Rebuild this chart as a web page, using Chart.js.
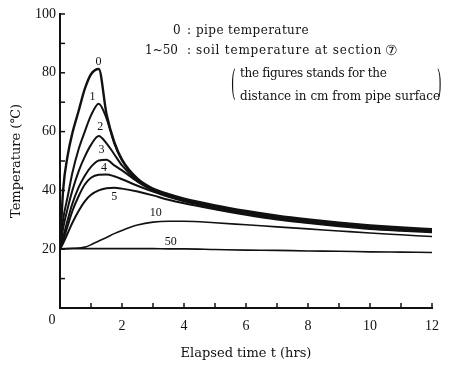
<!DOCTYPE html>
<html>
<head>
<meta charset="utf-8">
<script src="https://cdn.jsdelivr.net/npm/chart.js@4.4.0/dist/chart.umd.min.js"></script>
<style>
  html, body { margin: 0; padding: 0; background: #fff; }
</style>
</head>
<body>
<canvas id="tempChart" width="449" height="367"></canvas>
<script>
const hours = [0, 0.1, 0.25, 0.4, 0.6, 0.8, 1.0, 1.25, 1.5, 1.75, 2.0, 2.5, 3, 3.5, 4, 5, 6, 7, 8, 9, 10, 11, 12];

// Temperature (℃): curve 0 = pipe, others = soil at n cm from pipe surface
const temp0 = [20, 40, 52, 59.5, 67, 74.5, 79.5, 81.3, 66, 56.5, 50.5, 44, 40.6, 38.7, 37.2, 34.9, 33.0, 31.4, 30.1, 29.0, 28.1, 27.4, 26.8];
const temp1 = [20, 30, 38, 46, 54, 60, 65.5, 69.5, 64.5, 56, 50.2, 43.7, 40.4, 38.5, 37.0, 34.7, 32.8, 31.2, 29.9, 28.8, 27.9, 27.2, 26.6];
const temp2 = [20, 27, 34, 40, 46.5, 51.5, 55.5, 58.5, 56, 52.3, 48.5, 43.3, 40.2, 38.3, 36.8, 34.5, 32.6, 31.0, 29.7, 28.6, 27.7, 27.0, 26.4];
const temp3 = [20, 24, 30, 35.5, 41, 45, 48, 50.2, 50.4, 48.5, 46.8, 43, 40.0, 38.1, 36.6, 34.3, 32.4, 30.8, 29.5, 28.4, 27.5, 26.8, 26.2];
const temp4 = [20, 23, 28, 33, 38, 42, 44.3, 45.3, 45.4, 44.8, 43.8, 41.6, 39.6, 37.8, 36.3, 34.0, 32.1, 30.5, 29.2, 28.1, 27.2, 26.5, 26.0];
const temp5 = [20, 22, 25.5, 29, 33, 36.3, 38.5, 40, 40.7, 40.9, 40.6, 39.6, 38.3, 36.8, 35.6, 33.6, 31.7, 30.1, 28.9, 27.8, 26.9, 26.3, 25.8];
const temp10 = [20, 20.1, 20.2, 20.3, 20.4, 20.7, 21.5, 22.8, 24.0, 25.3, 26.4, 28.2, 29.2, 29.5, 29.5, 29.0, 28.3, 27.6, 26.9, 26.2, 25.5, 24.9, 24.3];
const temp50 = [20, 20.2, 20.2, 20.2, 20.2, 20.2, 20.2, 20.2, 20.2, 20.2, 20.2, 20.2, 20.2, 20.1, 20.1, 19.9, 19.7, 19.6, 19.4, 19.3, 19.1, 19.0, 18.9];

// curve labels and where they sit (hrs, ℃)
const curveNames = ["0", "1", "2", "3", "4", "5", "10", "50"];
const labelHours = [1.24, 1.05, 1.30, 1.34, 1.42, 1.75, 3.09, 3.57];
const labelTemps = [83.8, 71.9, 61.7, 53.7, 47.7, 37.9, 32.4, 22.6];

const xTicks = [0, 2, 4, 6, 8, 10, 12];
const yTicks = [0, 20, 40, 60, 80, 100];

const ink = "#111";
const allTemps = [temp0, temp1, temp2, temp3, temp4, temp5, temp10, temp50];
const widths = [2.4, 2, 2, 2, 2, 2, 1.6, 1.6];

const datasets = allTemps.map((vals, i) => ({
  label: curveNames[i],
  data: hours.map((h, j) => ({ x: h, y: vals[j] })),
  borderColor: ink,
  borderWidth: widths[i],
  pointRadius: 0,
  fill: false,
  cubicInterpolationMode: "monotone",
}));

// inward tick marks, curve numbers and the note in the upper right
const decorations = {
  id: "decorations",
  afterDraw(chart) {
    const { ctx } = chart;
    const xs = chart.scales.x;
    const ys = chart.scales.y;
    ctx.save();
    ctx.strokeStyle = ink;
    ctx.lineWidth = 1.5;
    for (let h = 1; h <= 12; h++) {
      const px = xs.getPixelForValue(h);
      ctx.beginPath();
      ctx.moveTo(px, ys.bottom);
      ctx.lineTo(px, ys.bottom - 5);
      ctx.stroke();
    }
    for (let v = 10; v <= 100; v += 10) {
      const py = ys.getPixelForValue(v);
      ctx.beginPath();
      ctx.moveTo(xs.left, py);
      ctx.lineTo(xs.left + 5, py);
      ctx.stroke();
    }

    ctx.fillStyle = ink;
    ctx.textAlign = "center";
    ctx.textBaseline = "middle";
    ctx.font = '14px "Liberation Serif"';
    ctx.fillText("0", 52, 320);

    ctx.font = '12px "Liberation Serif"';
    curveNames.forEach((name, i) => {
      ctx.fillText(name, xs.getPixelForValue(labelHours[i]), ys.getPixelForValue(labelTemps[i]));
    });

    ctx.font = '12px "DejaVu Serif"';
    ctx.textAlign = "left";
    ctx.fillText("0", 173, 31);
    ctx.fillText(":", 187, 31);
    ctx.fillText("1~50", 145, 51);
    ctx.fillText(":", 187, 51);
    ctx.letterSpacing = "0.4px";
    ctx.fillText("pipe temperature", 196, 31);
    ctx.letterSpacing = "0.8px";
    ctx.fillText("soil temperature at section", 196, 51);
    ctx.letterSpacing = "-0.3px";
    ctx.fillText("the figures stands for the", 240, 74);
    ctx.letterSpacing = "0px";
    ctx.fillText("distance in cm from pipe surface", 240, 97);
    ctx.font = '14px "DejaVu Serif"';
    ctx.fillText("⑦", 385, 51);

    ctx.font = '12px "DejaVu Serif"';
    ctx.save();
    ctx.translate(231, 86);
    ctx.scale(1, 3);
    ctx.fillText("(", 0, 0);
    ctx.restore();
    ctx.save();
    ctx.translate(437, 86);
    ctx.scale(1, 3);
    ctx.fillText(")", 0, 0);
    ctx.restore();
    ctx.restore();
  },
};

const ctx = document.getElementById("tempChart").getContext("2d");
const tempChart = new Chart(ctx, {
  type: "line",
  data: { datasets },
  options: {
    responsive: false,
    animation: false,
    layout: { padding: { left: 0, right: 17, top: 14, bottom: 0 } },
    plugins: {
      legend: { display: false },
      tooltip: { enabled: false },
    },
    scales: {
      x: {
        type: "linear",
        min: 0,
        max: 12,
        afterFit: (s) => { s.height = 59; },
        afterBuildTicks: (s) => { s.ticks = xTicks.map((v) => ({ value: v })); },
        grid: { display: false, drawTicks: false },
        border: { display: true, color: ink, width: 2 },
        ticks: {
          autoSkip: false,
          maxRotation: 0,
          padding: 10,
          color: ink,
          font: { family: "Liberation Serif", size: 14 },
          callback: (v) => (v === 0 ? "" : v),
        },
        title: {
          display: true,
          text: "Elapsed time t (hrs)",
          color: ink,
          font: { family: "DejaVu Serif", size: 13 },
          padding: { top: 0, bottom: 6 },
        },
      },
      y: {
        min: 0,
        max: 100,
        afterFit: (s) => { s.width = 60; },
        afterBuildTicks: (s) => { s.ticks = yTicks.map((v) => ({ value: v })); },
        grid: { display: false, drawTicks: false },
        border: { display: true, color: ink, width: 2 },
        ticks: {
          padding: 4,
          color: ink,
          font: { family: "Liberation Serif", size: 14 },
          callback: (v) => (v === 0 ? "" : v),
        },
        title: {
          display: true,
          text: "Temperature (℃)",
          color: ink,
          font: { family: "DejaVu Serif", size: 13 },
          padding: { top: 9, bottom: 0 },
        },
      },
    },
  },
  plugins: [decorations],
});
</script>
</body>
</html>
